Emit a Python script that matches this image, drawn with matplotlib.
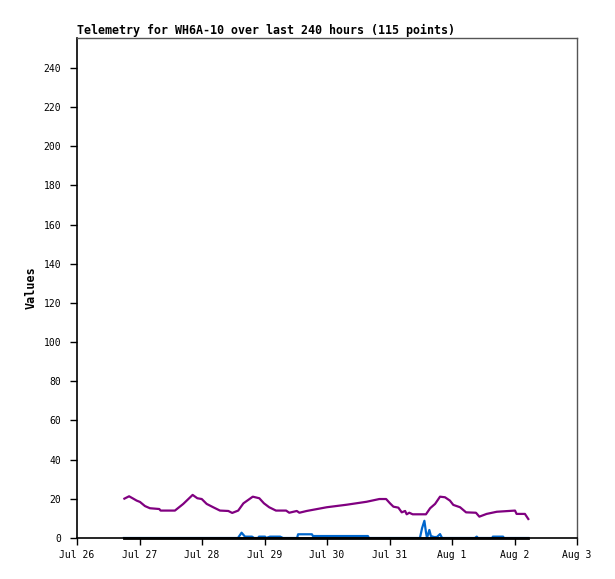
import matplotlib
matplotlib.use('Agg')
import matplotlib.pyplot as plt
import matplotlib.dates as mdates
import numpy as np

plt.rcParams['font.family'] = ['DejaVu Sans Mono']

# 時間以 7 月 26 日 00:00 起算的小時數表示
base = np.datetime64('2024-07-26T00:00')

purple_hours = [18.2, 20.0, 21.6, 22.9, 24.2, 26.1, 28.0, 31.6, 32.1, 37.6,
                40.8, 44.4, 46.2, 47.9, 49.8, 52.3, 54.9, 58.1, 59.6, 61.9,
                63.9, 67.5, 70.0, 71.8, 73.8, 76.4, 80.3, 81.5, 84.4, 85.4,
                88.2, 95.9, 103.6, 111.2, 116.1, 118.7, 120.2, 121.5, 123.4, 124.7,
                126.0, 126.6, 127.6, 128.9, 134.0, 135.6, 137.5, 139.4, 141.3, 143.2,
                144.5, 147.1, 149.4, 153.2, 154.5, 157.3, 161.2, 168.2, 168.8, 172.0,
                173.3]
purple_vals = [20.1, 21.3, 20.1, 19.1, 18.4, 16.3, 15.2, 14.8, 14.0, 14.0,
               17.4, 22.0, 20.3, 19.9, 17.4, 15.7, 14.0, 13.8, 12.8, 14.0,
               17.7, 21.1, 20.3, 17.7, 15.7, 14.0, 14.0, 12.9, 13.8, 12.9,
               13.8, 15.7, 17.0, 18.5, 19.9, 19.9, 17.7, 16.0, 15.5, 13.1,
               13.8, 12.1, 12.9, 12.1, 12.1, 15.2, 17.4, 21.1, 20.8, 19.1,
               16.9, 15.7, 13.1, 12.9, 10.9, 12.3, 13.4, 14.0, 12.3, 12.3,
               9.7]

blue_hours = [18.0, 61.8, 63.2, 64.5, 67.2, 68.0, 69.5, 69.9, 72.2, 72.6,
              74.1, 78.0, 79.1, 84.5, 84.9, 90.2, 90.6, 111.7, 112.1, 131.7,
              132.5, 133.4, 134.0, 134.4, 135.3, 135.9, 137.1, 138.2, 139.4, 140.2,
              152.8, 153.5, 154.0, 159.4, 159.7, 163.6, 164.0, 173.3]
blue_vals = [0, 0, 2.7, 0.7, 0.7, 0, 0, 0.7, 0.7, 0,
             0.7, 0.7, 0, 0, 1.9, 1.9, 1.0, 1.0, 0, 0,
             5.0, 8.8, 3.0, 0, 4.1, 1.0, 0.5, 0.5, 2.0, 0,
             0, 0.7, 0, 0, 0.7, 0.7, 0, 0]

black_hours = [18.2, 60.0, 100.0, 140.0, 173.3]
black_vals = [0, 0, 0, 0, 0]

y_ticks = [0, 20, 40, 60, 80, 100, 120, 140, 160, 180, 200, 220, 240]


def to_dates(hours):
    return base + (np.array(hours) * 60).astype('timedelta64[m]')


fig = plt.figure(figsize=(6.15, 5.79), dpi=100)
ax = fig.add_axes([77 / 615, 41 / 579, 500 / 615, 500 / 579])

ax.plot(to_dates(blue_hours), blue_vals, color='#0066CC', lw=1.6)
ax.plot(to_dates(purple_hours), purple_vals, color='#800080', lw=1.6)
ax.plot(to_dates(black_hours), black_vals, color='black', lw=2, clip_on=False)

ax.set_xlim(base, base + np.timedelta64(8, 'D'))
ax.set_ylim(0, 255.3)
ax.set_yticks(y_ticks)

ax.xaxis.set_major_locator(mdates.DayLocator())
ax.xaxis.set_major_formatter(mdates.DateFormatter('%b %-d'))

ax.tick_params(axis='both', direction='out', length=5, width=1, labelsize=7)
ax.tick_params(axis='y', pad=6.5)
ax.tick_params(axis='x', pad=3.5)

for side in ['top', 'right']:
    ax.spines[side].set_color('#555555')
    ax.spines[side].set_linewidth(1)
for side in ['left', 'bottom']:
    ax.spines[side].set_color('black')
    ax.spines[side].set_linewidth(1.2)

ax.set_title('Telemetry for WH6A-10 over last 240 hours (115 points)',
             loc='left', fontsize=8.4, fontweight='bold', pad=3)
ax.set_ylabel('Values', fontsize=8.5, fontweight='bold', labelpad=4)

fig.savefig('out.png', dpi=100)
